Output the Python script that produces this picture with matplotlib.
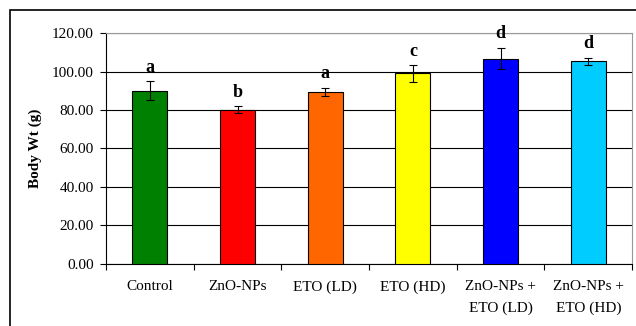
import matplotlib.pyplot as plt
from matplotlib.patches import Rectangle
import numpy as np

# data
groups = ["Control", "ZnO-NPs", "ETO (LD)", "ETO (HD)", "ZnO-NPs +\nETO (LD)", "ZnO-NPs +\nETO (HD)"]
body_wt = [90.1, 80.3, 89.4, 99.1, 106.8, 105.4]
errors = [4.8, 1.6, 2.1, 4.3, 5.5, 1.8]
letters = ["a", "b", "a", "c", "d", "d"]
colors = ["#008000", "#FF0000", "#FF6600", "#FFFF00", "#0000FF", "#00CCFF"]

plt.rcParams["font.family"] = ["Liberation Serif", "DejaVu Serif"]

fig = plt.figure(figsize=(6.36, 3.26), dpi=100)
ax = fig.add_axes([0.1667, 0.191, 0.8273, 0.707])

# outer frame (top and left visible, rest cut off)
fig.patches.append(Rectangle((10 / 636, -0.1), 1.2, (326 - 9.5) / 326 + 0.1,
                             transform=fig.transFigure, fill=False,
                             edgecolor="black", linewidth=1.2))

x = np.arange(len(groups))
ax.bar(x, body_wt, width=0.4, color=colors, edgecolor="black", linewidth=0.8, zorder=3)
ax.errorbar(x, body_wt, yerr=errors, fmt="none", ecolor="black", elinewidth=0.8,
            capsize=3, capthick=0.8, zorder=4)

for xi, v, e, l in zip(x, body_wt, errors, letters):
    ax.text(xi, v + e + 5, l, ha="center", va="baseline", fontsize=13, fontweight="bold")

ax.set_xlim(-0.5, len(groups) - 0.5)
ax.set_ylim(0, 120)
ax.set_yticks(np.arange(0, 121, 20))
ax.set_yticklabels(["%.2f" % t for t in np.arange(0, 121, 20)], fontsize=11)
ax.yaxis.grid(True, color="black", linewidth=0.8, zorder=0)
ax.set_axisbelow(True)

ax.set_xticks(x)
ax.set_xticklabels(groups, fontsize=11, linespacing=1.75)
ax.tick_params(axis="x", which="major", length=0, pad=12)
ax.set_xticks(np.arange(-0.5, len(groups), 1), minor=True)
ax.tick_params(axis="x", which="minor", length=4, direction="out", width=0.8)
ax.tick_params(axis="y", length=4, width=0.8, direction="out", pad=5)

ax.set_ylabel("Body Wt (g)", fontsize=11, fontweight="bold", labelpad=7)

for s in ["top", "right"]:
    ax.spines[s].set_color("#999999")
ax.spines["left"].set_color("black")
ax.spines["bottom"].set_color("black")

fig.savefig("out.png", dpi=100)
